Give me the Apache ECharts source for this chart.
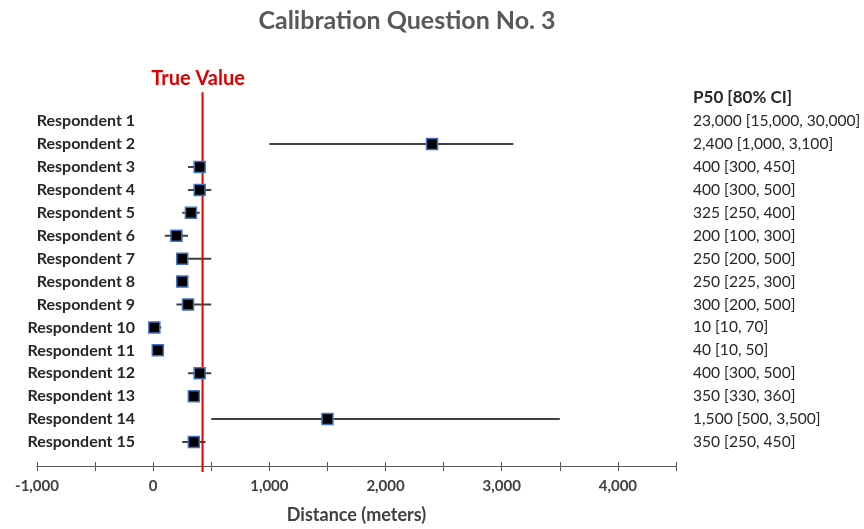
<!DOCTYPE html>
<html>
<head>
<meta charset="utf-8">
<script src="https://cdn.jsdelivr.net/npm/echarts@6/dist/echarts.min.js"></script>
<style>
html,body{margin:0;padding:0;background:#fff;}
#chart{width:864px;height:529px;}
</style>
</head>
<body>
<div id="chart"></div>
<script>
const respondents = ['Respondent 1','Respondent 2','Respondent 3','Respondent 4','Respondent 5','Respondent 6','Respondent 7','Respondent 8','Respondent 9','Respondent 10','Respondent 11','Respondent 12','Respondent 13','Respondent 14','Respondent 15'];
const p50  = [23000, 2400, 400, 400, 325, 200, 250, 250, 300, 10, 40, 400, 350, 1500, 350];
const low  = [15000, 1000, 300, 300, 250, 100, 200, 225, 200, 10, 10, 300, 330, 500, 250];
const high = [30000, 3100, 450, 500, 400, 300, 500, 300, 500, 70, 50, 500, 360, 3500, 450];
const trueValue = 425;
const xMin = -1000, xMax = 4500, xStep = 500;
const xLabelStep = 1000;

const FONT = 'Lato';
const fmt = v => v.toLocaleString('en-US');
const tableRows = respondents.map((r, i) => fmt(p50[i]) + ' [' + fmt(low[i]) + ', ' + fmt(high[i]) + ']');

const chart = echarts.init(document.getElementById('chart'), null, {renderer: 'canvas'});

const baseX = {
  type: 'value', min: xMin, max: xMax, interval: xStep,
  splitLine: {show: false},
  axisLine: {show: true, onZero: false, lineStyle: {color: '#595959', width: 1}},
};

const option = {
  animation: false,
  backgroundColor: '#fff',
  textStyle: {fontFamily: FONT},
  graphic: [
    {type: 'text', x: 407, y: 21, style: {text: 'Calibration Question No. 3', font: 'bold 25px ' + FONT, fill: '#595959', textAlign: 'center', textVerticalAlign: 'middle'}},
    {type: 'text', x: 693, y: 98, style: {text: 'P50 [80% CI]', font: 'bold 17px ' + FONT, fill: '#262626', textAlign: 'left', textVerticalAlign: 'middle'}}
  ],
  grid: {left: 37, right: 188, top: 109.7, height: 346, containLabel: false},
  xAxis: [
    Object.assign({}, baseX, {
      offset: 12.5,
      axisTick: {show: true, length: 5, lineStyle: {color: '#595959'}},
      axisLabel: {
        margin: 13, fontFamily: FONT, fontWeight: 'bold', fontSize: 15, color: '#404040',
        formatter: v => (v % xLabelStep === 0 ? fmt(v) : '')
      },
      name: 'Distance (meters)', nameLocation: 'middle', nameGap: 40,
      nameTextStyle: {fontFamily: FONT, fontWeight: 'bold', fontSize: 18, color: '#404040'}
    }),
    Object.assign({}, baseX, {
      offset: 12.5, position: 'bottom',
      axisTick: {show: true, inside: true, length: 4, lineStyle: {color: '#595959'}},
      axisLabel: {show: false}
    })
  ],
  yAxis: [
    {
      type: 'category', data: respondents, inverse: true, position: 'left', offset: -98,
      axisLine: {show: false}, axisTick: {show: false}, splitLine: {show: false},
      axisLabel: {margin: 0, fontFamily: FONT, fontWeight: 'bold', fontSize: 16, color: '#262626'}
    },
    {
      type: 'category', data: tableRows, inverse: true, position: 'right',
      axisLine: {show: false}, axisTick: {show: false}, splitLine: {show: false},
      axisLabel: {margin: 17, align: 'left', fontFamily: FONT, fontSize: 15.6, color: '#262626'}
    }
  ],
  series: [
    {
      type: 'custom', name: 'CI', xAxisIndex: 0, yAxisIndex: 0, clip: true, z: 2,
      data: respondents.map((r, i) => [low[i], high[i], i]),
      encode: {x: [0, 1], y: 2},
      renderItem: (params, api) => {
        const a = api.coord([api.value(0), api.value(2)]);
        const b = api.coord([api.value(1), api.value(2)]);
        return {type: 'line', shape: {x1: a[0], y1: a[1], x2: b[0], y2: b[1]}, style: {stroke: '#404040', lineWidth: 2}};
      }
    },
    {
      type: 'custom', name: 'True Value', xAxisIndex: 0, yAxisIndex: 0, clip: false, z: 3,
      data: [[trueValue, 0]],
      renderItem: (params, api) => {
        const cs = params.coordSys;
        const x = api.coord([api.value(0), 0])[0];
        return {type: 'group', children: [
          {type: 'line', shape: {x1: x, y1: cs.y - 17.5, x2: x, y2: cs.y + cs.height + 18.5}, style: {stroke: '#E00000', lineWidth: 2}},
          {type: 'text', style: {x: x - 4.5, y: cs.y - 31, text: 'True Value', font: 'bold 20px ' + FONT, fill: '#E00000', textAlign: 'center', textVerticalAlign: 'middle'}}
        ]};
      }
    },
    {
      type: 'scatter', name: 'P50', xAxisIndex: 0, yAxisIndex: 0, z: 4,
      symbol: 'rect', symbolSize: 11,
      data: respondents.map((r, i) => [p50[i], i]),
      itemStyle: {color: '#000000', borderColor: '#4472C4', borderWidth: 1.5, opacity: 1}
    }
  ]
};
chart.setOption(option);
</script>
</body>
</html>
